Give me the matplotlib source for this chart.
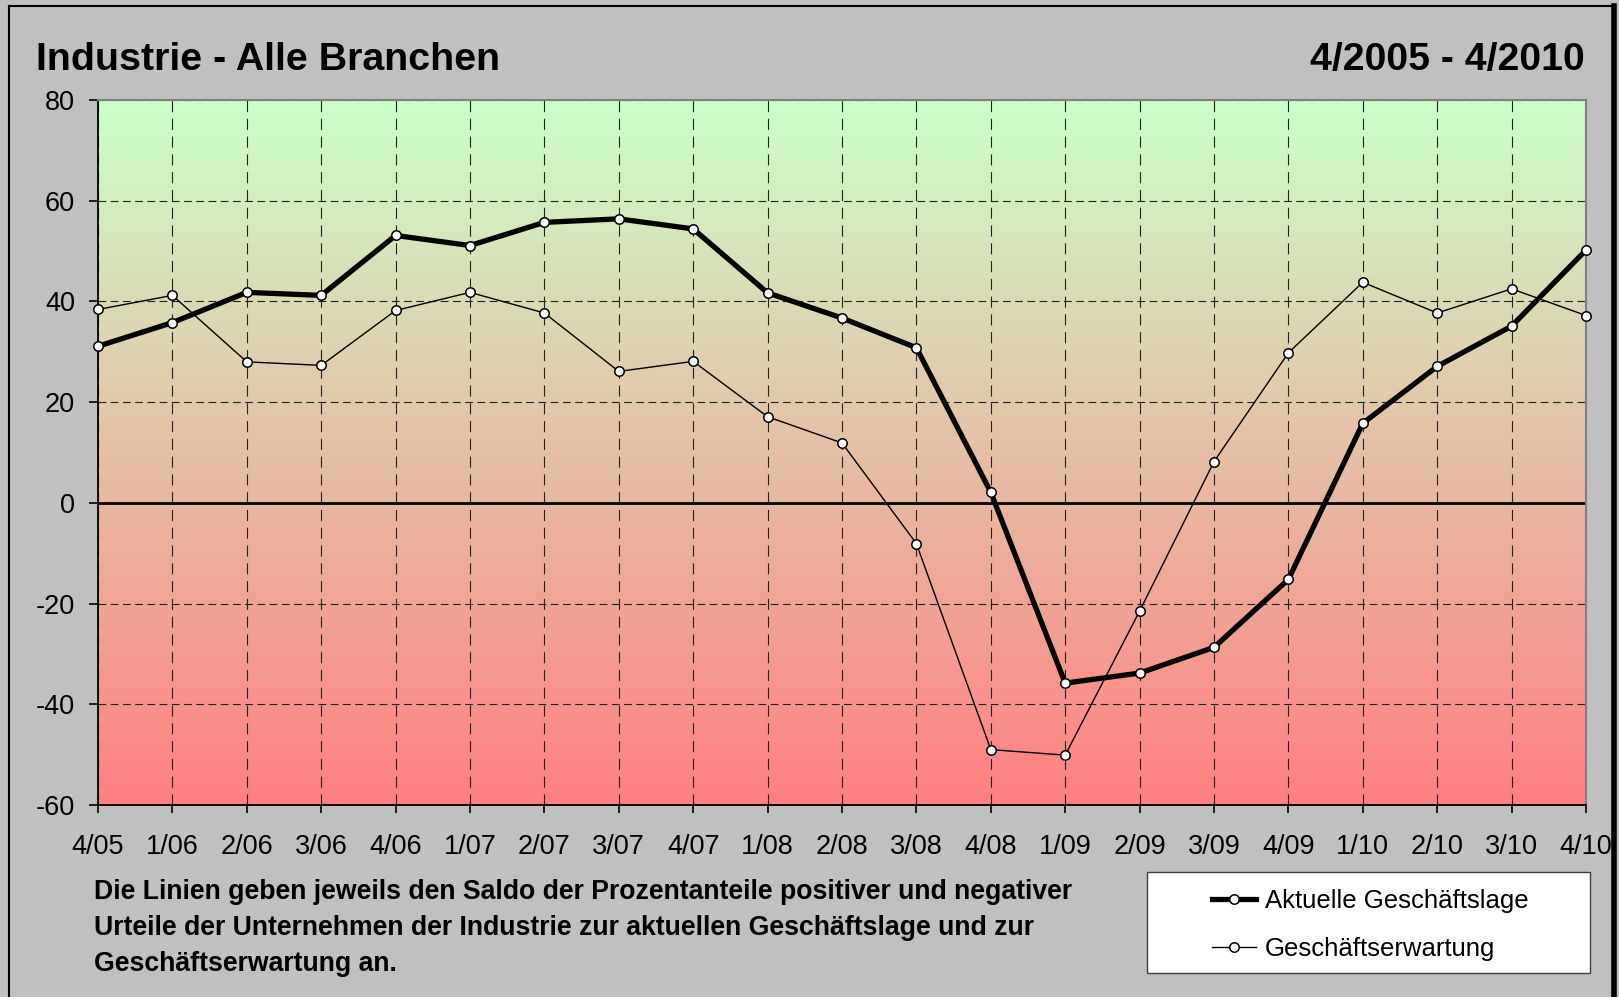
"""ifo-style business climate chart: Industrie - Alle Branchen, 4/2005 - 4/2010."""

import matplotlib
matplotlib.use("Agg")
import matplotlib.pyplot as plt
import numpy as np
from matplotlib.lines import Line2D
from matplotlib.patches import Rectangle

plt.rcParams["font.family"] = ["Liberation Sans", "DejaVu Sans"]
plt.rcParams["axes.unicode_minus"] = False

W, H = 1619, 997

# ── Data ────────────────────────────────────────────────────────────────────
quarters = ["4/05", "1/06", "2/06", "3/06", "4/06", "1/07", "2/07", "3/07",
            "4/07", "1/08", "2/08", "3/08", "4/08", "1/09", "2/09", "3/09",
            "4/09", "1/10", "2/10", "3/10", "4/10"]
lage = [31.1, 35.8, 41.8, 41.2, 53.1, 51.1, 55.7, 56.4, 54.4, 41.7, 36.7,
        30.8, 2.1, -35.8, -33.8, -28.7, -15.2, 15.8, 27.1, 35.1, 50.2]
erwartung = [38.4, 41.2, 28.0, 27.3, 38.2, 41.8, 37.7, 26.1, 28.1, 17.1, 11.9,
             -8.1, -49.0, -50.1, -21.5, 8.2, 29.8, 43.8, 37.7, 42.5, 37.2]
yticks = [-60, -40, -20, 0, 20, 40, 60, 80]

title_left = "Industrie - Alle Branchen"
title_right = "4/2005 - 4/2010"
note_lines = [
    "Die Linien geben jeweils den Saldo der Prozentanteile positiver und negativer",
    "Urteile der Unternehmen der Industrie zur aktuellen Geschäftslage und zur",
    "Geschäftserwartung an.",
]
labels = ["Aktuelle Geschäftslage", "Geschäftserwartung"]


def fx(px):
    return px / W


def fy(py):
    return 1 - py / H


fig = plt.figure(figsize=(W / 100, H / 100), dpi=100, facecolor="#c0c0c0")

# outer frame
fig.add_artist(Line2D([fx(9), fx(9)], [fy(6), fy(1000)], color="black", lw=1.5))
fig.add_artist(Line2D([fx(9), fx(1613)], [fy(6), fy(6)], color="black", lw=1.5))
fig.add_artist(Line2D([fx(1614), fx(1614)], [fy(6), fy(1000)], color="black", lw=4))

ax = fig.add_axes([fx(98), fy(805), fx(1586) - fx(98), fy(100) - fy(805)])
x = np.arange(len(quarters))

# vertical gradient green -> red
top = np.array([204, 255, 204]) / 255
bot = np.array([255, 128, 128]) / 255
t = np.linspace(0, 1, 256)[:, None]
grad = (top * (1 - t) + bot * t)[:, None, :]
ax.imshow(grad, extent=[0, len(quarters) - 1, yticks[0], yticks[-1]],
          aspect="auto", zorder=0, interpolation="bilinear")

ax.set_xlim(0, len(quarters) - 1)
ax.set_ylim(yticks[0], yticks[-1])
ax.set_xticks(x)
ax.set_xticklabels(quarters)
ax.set_yticks(yticks)

ax.xaxis.grid(True, color="#222222", lw=0.8, linestyle=(0, (10, 6)), zorder=1)
ax.yaxis.grid(True, color="#222222", lw=0.8, linestyle=(0, (7, 4)), zorder=1)
ax.axhline(0, color="black", lw=2, zorder=2)

mk = dict(marker="o", markersize=6.8, markerfacecolor="white",
          markeredgecolor="black", markeredgewidth=1.1)
ax.plot(x, erwartung, color="black", lw=1, zorder=3, clip_on=False, **mk)
ax.plot(x, lage, color="black", lw=3.8, zorder=4, clip_on=False, **mk)

for s in ["top", "right"]:
    ax.spines[s].set_color("#808080")
    ax.spines[s].set_linewidth(1.5)
for s in ["left", "bottom"]:
    ax.spines[s].set_color("black")
    ax.spines[s].set_linewidth(1.3)

ax.tick_params(axis="y", direction="out", length=6.5, width=1.2, pad=10,
               labelsize=19.5)
ax.tick_params(axis="x", direction="out", length=6, width=1.2, pad=15,
               labelsize=19.5)

# titles
fig.text(fx(36), fy(60), title_left, fontsize=28.4, fontweight="bold",
         ha="left", va="center")
fig.text(fx(1585), fy(60), title_right, fontsize=28.2, fontweight="bold",
         ha="right", va="center")

# footnote
for i, line in enumerate(note_lines):
    fig.text(fx(94), fy(892 + 36 * i), line, fontsize=19.2, fontweight="bold",
             ha="left", va="center")

# legend box
fig.add_artist(Rectangle((fx(1147), fy(973)), fx(1590) - fx(1147),
                         fy(872) - fy(973), transform=fig.transFigure,
                         facecolor="white", edgecolor="#404040", lw=1))
handles = [
    Line2D([], [], color="black", lw=3.8, **mk),
    Line2D([], [], color="black", lw=1, **mk),
]
fig.legend(handles, labels, loc="center left", frameon=False,
           bbox_to_anchor=(fx(1212), fy(925)), fontsize=18.5,
           handlelength=1.7, handletextpad=0.35, labelspacing=0.95,
           borderaxespad=0, borderpad=0)

fig.savefig("out.png", dpi=100, facecolor=fig.get_facecolor())
